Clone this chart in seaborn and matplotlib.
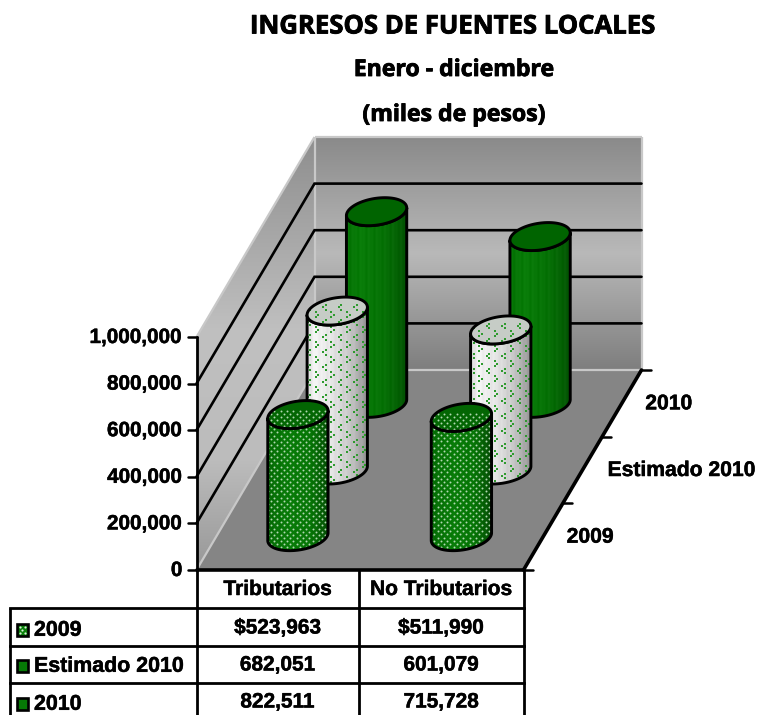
import numpy as np
import matplotlib
matplotlib.use("Agg")
import matplotlib.pyplot as plt
from matplotlib.patches import Polygon
from matplotlib.colors import to_rgb
import matplotlib.patheffects as pe
import seaborn as sns

# ---------- data ----------
categories = ["Tributarios", "No Tributarios"]
series_names = ["2009", "Estimado 2010", "2010"]
values_2009 = [523963, 511990]
values_est = [682051, 601079]
values_2010 = [822511, 715728]
cell_2009 = ["$523,963", "$511,990"]
cell_est = ["682,051", "601,079"]
cell_2010 = ["822,511", "715,728"]
y_ticks = [0, 200000, 400000, 600000, 800000, 1000000]
titles = ["INGRESOS DE FUENTES LOCALES", "Enero - diciembre", "(miles de pesos)"]

sns.set_theme(style="white")
plt.rcParams["font.family"] = ["Liberation Sans", "DejaVu Sans"]
plt.rcParams["text.color"] = "black"

fig = plt.figure(figsize=(7.58, 7.15), dpi=100)
ax = fig.add_axes([0, 0, 1, 1])
ax.set_xlim(0, 758)
ax.set_ylim(715, 0)
ax.axis("off")

# ---------- oblique projection of the chart box ----------
X0, Y0 = 196.5, 570.0      # front-left floor corner
WIDTH = 327.0              # category axis length
DX, DY = 118.0, -200.0     # depth axis vector
HEIGHT = 233.0             # pixels for the full value axis
VMAX = 1000000.0
N_CAT, N_SER = len(categories), len(series_names)


def proj(cat, ser, val):
    return (X0 + cat / N_CAT * WIDTH + ser / N_SER * DX,
            Y0 + ser / N_SER * DY - val / VMAX * HEIGHT)


_z = [1]


def nz():
    _z[0] += 1
    return _z[0]


def ramp(stops, n=256):
    """stops: [(pos, colour)], returns n x 3 array"""
    pos = [s[0] for s in stops]
    cols = np.array([to_rgb(s[1]) for s in stops])
    t = np.linspace(0, 1, n)
    return np.stack([np.interp(t, pos, cols[:, i]) for i in range(3)], axis=1)


def grad_fill(poly_pts, colors, vertical=True):
    pts = np.asarray(poly_pts)
    patch = Polygon(pts, closed=True, fc="none", ec="none", zorder=nz())
    ax.add_patch(patch)
    img = colors[:, None, :] if vertical else colors[None, :, :]
    x0, x1, y0, y1 = pts[:, 0].min(), pts[:, 0].max(), pts[:, 1].min(), pts[:, 1].max()
    im = ax.imshow(img, extent=(x0, x1, y1, y0), origin="upper", aspect="auto",
                   interpolation="bilinear", zorder=nz())
    im.set_clip_path(patch)
    return patch


# ---------- walls ----------
back_wall = [proj(0, N_SER, 0), proj(N_CAT, N_SER, 0), proj(N_CAT, N_SER, VMAX), proj(0, N_SER, VMAX)]
left_wall = [proj(0, 0, 0), proj(0, N_SER, 0), proj(0, N_SER, VMAX), proj(0, 0, VMAX)]
floor = [proj(0, 0, 0), proj(N_CAT, 0, 0), proj(N_CAT, N_SER, 0), proj(0, N_SER, 0)]

grad_fill(back_wall, ramp([(0, "#8a8a8a"), (0.5, "#b9b9b9"), (1, "#7e7e7e")]))
grad_fill(left_wall, ramp([(0, "#8e8e8e"), (0.45, "#c0c0c0"), (0.75, "#bcbcbc"), (1, "#989898")]))
ax.add_patch(Polygon(floor, closed=True, fc="#858585", ec="none", zorder=nz()))

EDGE = "#c8c8c8"
for a, b in [(proj(0, N_SER, 0), proj(N_CAT, N_SER, 0)),
             (proj(N_CAT, N_SER, 0), proj(N_CAT, N_SER, VMAX)),
             (proj(N_CAT, N_SER, VMAX), proj(0, N_SER, VMAX)),
             (proj(0, N_SER, VMAX), proj(0, N_SER, 0)),
             (proj(0, N_SER, VMAX), proj(0, 0, VMAX)),
             (proj(0, 0, 0), proj(0, N_SER, 0))]:
    ax.plot([a[0], b[0]], [a[1], b[1]], color=EDGE, lw=1.6, solid_capstyle="butt", zorder=nz())

# gridlines
z_grid = nz()
for v in y_ticks[1:-1]:
    a, b, c = proj(0, 0, v), proj(0, N_SER, v), proj(N_CAT, N_SER, v)
    ax.plot([a[0], b[0], c[0]], [a[1], b[1], c[1]], color="black", lw=1.9,
            solid_joinstyle="miter", zorder=z_grid)

# ---------- axes ----------
z_ax = 500
BOLD = [pe.withStroke(linewidth=0.35, foreground="black")]
fl, fr, br = proj(0, 0, 0), proj(N_CAT, 0, 0), proj(N_CAT, N_SER, 0)
ax.plot([fl[0], fr[0]], [fl[1], fr[1]], color="black", lw=2.6, zorder=z_ax)
ax.plot([fr[0], br[0]], [fr[1], br[1]], color="black", lw=2.6, zorder=z_ax)
top = proj(0, 0, VMAX)
ax.plot([fl[0], top[0]], [fl[1], top[1]], color="black", lw=2.0, zorder=z_ax)
for v in y_ticks:
    p = proj(0, 0, v)
    ax.plot([p[0] - 9, p[0]], [p[1], p[1]], color="black", lw=1.8, zorder=z_ax)
    ax.text(p[0] - 14, p[1] + 0.5, f"{v:,}", ha="right", va="center", fontsize=14.9,
            fontweight="bold", color="black", zorder=z_ax, path_effects=BOLD)
for s in range(N_SER + 1):
    p = proj(N_CAT, s, 0)
    ax.plot([p[0], p[0] + 9], [p[1], p[1]], color="black", lw=1.8, zorder=z_ax)
for s, name in enumerate(series_names):
    p = proj(N_CAT, s + 0.5, 0)
    off = [47, 99, 47][s]
    ax.text(p[0] + off, p[1] + 0.5, name, ha="center", va="center", fontsize=15.2,
            fontweight="bold", color="black", zorder=z_ax, path_effects=BOLD)

# ---------- cylinders ----------
RX = 29.0
SD = 0.07


def ell(center, t):
    t = np.asarray(t)
    return np.column_stack([center[0] + RX * np.cos(t) + SD * DX * np.sin(t),
                            center[1] + SD * DY * np.sin(t)])


def stripes(base_stops, amp, n=256):
    c = ramp(base_stops, n)
    u = np.linspace(0, 1, n)
    mod = amp * (np.sin(u * 71.0) * np.sin(u * 23.0))
    return np.clip(c + mod[:, None], 0, 1)


STYLES = {
    0: dict(body=[(0, "#066c06"), (0.35, "#087c08"), (0.7, "#077607"), (0.88, "#065e06"), (1, "#054a05")],
            top="#036603", amp=0.012),
    1: dict(body=[(0, "#dcdcdc"), (0.12, "#f4f4f4"), (0.4, "#e6e6e6"), (0.7, "#c8c8c8"), (0.88, "#a8a8a8"), (1, "#8c8c8c")],
            top="#c6ccc6", amp=0.02),
    2: dict(body=[(0, "#067406"), (0.25, "#087c08"), (0.6, "#067206"), (0.85, "#056205"), (1, "#034f03")],
            top="#006400", amp=0.018),
}


def dots(x0, x1, y0, y1, patch, z):
    xs, ys = [], []
    for i, x in enumerate(np.arange(x0, x1, 3.2)):
        yv = np.arange(y0 + (i % 2) * 3.1, y1, 6.2)
        xs.extend([x] * len(yv))
        ys.extend(yv)
    sc = ax.scatter(xs, ys, s=2.0, c="#b0d8b0", linewidths=0, marker="o", zorder=z)
    sc.set_clip_path(patch)


def chevrons(x0, x1, y0, y1, patch, z):
    xs, ys = [], []
    step_x, step_y = 7.8, 15.0
    for i, x in enumerate(np.arange(x0, x1, step_x)):
        sgn = 1 if i % 2 == 0 else -1
        for y in np.arange(y0 + (i % 2) * step_y / 2, y1, step_y):
            xs += [x - sgn * 1.5, x + sgn * 1.0, x + sgn * 1.0]
            ys += [y, y - 2.3, y + 2.3]
    sc = ax.scatter(xs, ys, s=3.8, c="#2f9a2f", linewidths=0, marker="s", zorder=z)
    sc.set_clip_path(patch)


value_table = [values_2009, values_est, values_2010]
t0 = np.arctan2(SD * DX, RX)
for s in reversed(range(N_SER)):
    for c in range(N_CAT):
        val = value_table[s][c]
        base = proj(c + 0.5, s + 0.5, 0)
        head = proj(c + 0.5, s + 0.5, val)
        st = STYLES[s]
        arc = np.linspace(t0, t0 - np.pi, 60)
        low = ell(base, arc)
        up = ell(head, arc)
        outline = np.vstack([low, up[::-1]])
        patch = grad_fill(outline, stripes(st["body"], st["amp"]), vertical=False)
        x0, x1 = outline[:, 0].min(), outline[:, 0].max()
        y0, y1 = outline[:, 1].min(), outline[:, 1].max()
        if s == 0:
            dots(x0, x1, y0, y1, patch, nz())
        elif s == 1:
            chevrons(x0 + 2, x1, y0, y1, patch, nz())
        ax.add_patch(Polygon(outline, closed=True, fc="none", ec="black", lw=2.1,
                             joinstyle="round", zorder=nz()))
        full = ell(head, np.linspace(0, 2 * np.pi, 120))
        cap = Polygon(full, closed=True, fc=st["top"], ec="none", zorder=nz())
        ax.add_patch(cap)
        if s == 0:
            dots(x0, x1, y0, y1, cap, nz())
        elif s == 1:
            chevrons(x0 + 2, x1, y0, y1, cap, nz())
        ax.add_patch(Polygon(full, closed=True, fc="none", ec="black", lw=2.1, zorder=nz()))

# ---------- data table ----------
col_x = [proj(i, 0, 0)[0] for i in range(N_CAT + 1)]
col_x[1] = 359.0
row_y = [570.0, 608.0, 645.5, 683.0, 716.0]
LEFT = 9.5
LW = 2.0
for x in col_x:
    ax.plot([x, x], [row_y[0], row_y[-1]], color="black", lw=LW, solid_capstyle="butt", zorder=600)
ax.plot([LEFT, LEFT], [row_y[1], row_y[-1]], color="black", lw=LW, solid_capstyle="butt", zorder=600)
for y in row_y[1:4]:
    ax.plot([LEFT, col_x[-1]], [y, y], color="black", lw=LW, solid_capstyle="projecting", zorder=600)

centers = [(col_x[i] + col_x[i + 1]) / 2 for i in range(N_CAT)]
for cx, name in zip(centers, categories):
    ax.text(cx, 589.5, name, ha="center", va="center", fontsize=15.1, fontweight="bold",
            color="black", zorder=601, path_effects=BOLD)
for r, row in enumerate([cell_2009, cell_est, cell_2010]):
    ym = [628, 665, 702][r]
    for cx, txt in zip(centers, row):
        ax.text(cx, ym, txt, ha="center", va="center", fontsize=15.0, fontweight="bold",
                color="black", zorder=601, path_effects=BOLD)

key_colors = ["#0a7f0a", "#067a06", "#067a06"]
for r, name in enumerate(series_names):
    ym = [629.5, 665.5, 703.5][r]
    ax.add_patch(Polygon([(16.5, ym - 6), (27.5, ym - 6), (27.5, ym + 6), (16.5, ym + 6)], closed=True,
                         fc=key_colors[r], ec="black", lw=1.9, zorder=601))
    if r == 0:
        ax.scatter([19.5, 24.5, 22, 19.5, 24.5], [ym - 3, ym - 3, ym, ym + 3, ym + 3], s=2.5,
                   c="#d8f0d8", linewidths=0, zorder=602)
    ax.text(34, ym + 0.8, name, ha="left", va="center", fontsize=15.4, fontweight="bold",
            color="black", zorder=601, path_effects=BOLD)

# ---------- titles ----------
for txt, y, fs in zip(titles, [26, 70, 115], [18.5, 16.6, 16.6]):
    ax.text(453.5, y, txt, ha="center", va="center", fontsize=fs, fontweight="bold",
            family=["Open Sans", "DejaVu Sans"], color="black", zorder=601,
            path_effects=[pe.withStroke(linewidth=0.6, foreground="black")])

fig.savefig("out.png", dpi=100, facecolor="white")
